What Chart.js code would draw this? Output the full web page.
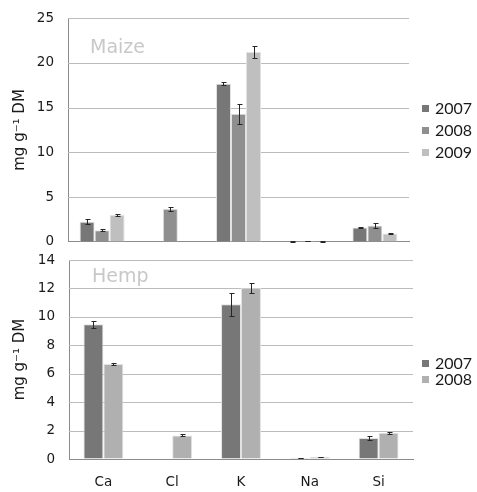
<!DOCTYPE html>
<html>
<head>
<meta charset="utf-8">
<script src="https://cdn.jsdelivr.net/npm/chart.js@4"></script>
<style>
  html, body { margin: 0; padding: 0; background: #fff; overflow: hidden; }
  #wrap { position: relative; width: 477px; height: 492px; }
  canvas { position: absolute; left: 0; }
  #c1 { top: 0; }
  #c2 { top: 250px; }
</style>
</head>
<body>
<div id="wrap">
  <canvas id="c1" width="477" height="250"></canvas>
  <canvas id="c2" width="477" height="242"></canvas>
</div>
<script>
// ---- Data ----
const categories = ['Ca', 'Cl', 'K', 'Na', 'Si'];
const yAxisTitle = 'mg g\u207B\u00B9 DM';

const maizeTitle = 'Maize';
const maizeYears = ['2007', '2008', '2009'];
const maize2007 = [2.25, null, 17.65, 0.05, 1.6];
const maize2008 = [1.3, 3.7, 14.3, 0.1, 1.82];
const maize2009 = [3.0, null, 21.2, 0.05, 0.93];
const maize2007Err = [0.3, null, 0.15, 0.02, 0.1];
const maize2008Err = [0.1, 0.25, 1.1, 0.03, 0.25];
const maize2009Err = [0.15, null, 0.65, 0.02, 0.04];
const maizeTicks = [0, 5, 10, 15, 20, 25];

const hempTitle = 'Hemp';
const hempYears = ['2007', '2008'];
const hemp2007 = [9.48, null, 10.88, 0.07, 1.47];
const hemp2008 = [6.69, 1.66, 12.05, 0.14, 1.85];
const hemp2007Err = [0.25, null, 0.8, 0.02, 0.15];
const hemp2008Err = [0.05, 0.07, 0.35, 0.03, 0.07];
const hempTicks = [0, 2, 4, 6, 8, 10, 12, 14];

// ---- Styles ----
const FONT = 'DejaVu Sans';
const C2007 = '#777777';
const C2008 = '#8f8f8f';
const C2009 = '#bfbfbf';
const C2008h = '#b0b0b0';
const GRID = '#bcbcbc';
const AXIS = '#8c8c8c';

// Gridlines drawn from the y scale's ticks (filled 1px rows)
const gridPlugin = {
  id: 'gridPlugin',
  beforeDatasetsDraw(chart) {
    const ctx = chart.ctx;
    const y = chart.scales.y;
    const a = chart.chartArea;
    ctx.save();
    ctx.fillStyle = GRID;
    for (let k = 0; k < y.ticks.length; k++) {
      const v = y.ticks[k].value;
      if (v <= y.min) continue;
      const py = Math.round(y.getPixelForValue(v));
      ctx.fillRect(Math.round(a.left), py, Math.round(a.right - a.left), 1);
    }
    ctx.restore();
  }
};

// Error bars plugin
const errorBars = {
  id: 'errorBars',
  afterDatasetsDraw(chart) {
    const ctx = chart.ctx;
    const y = chart.scales.y;
    ctx.save();
    ctx.strokeStyle = '#262626';
    ctx.lineWidth = 1;
    chart.data.datasets.forEach((ds, i) => {
      const meta = chart.getDatasetMeta(i);
      meta.data.forEach((bar, j) => {
        const v = ds.data[j], e = ds.errors ? ds.errors[j] : null;
        if (v == null || e == null) return;
        const x = Math.round(bar.x) + 0.5;
        const yt = Math.round(y.getPixelForValue(v + e)) + 0.5;
        const yb = Math.round(y.getPixelForValue(Math.max(0, v - e))) + 0.5;
        ctx.beginPath();
        ctx.moveTo(x, yt); ctx.lineTo(x, yb);
        ctx.moveTo(x - 2, yt); ctx.lineTo(x + 3, yt);
        ctx.moveTo(x - 2, yb); ctx.lineTo(x + 3, yb);
        ctx.stroke();
      });
    });
    ctx.restore();
  }
};

// Legend + panel title plugin
const decor = {
  id: 'decor',
  afterDraw(chart, args, opts) {
    const ctx = chart.ctx;
    ctx.save();
    ctx.font = '19px ' + FONT;
    ctx.fillStyle = '#c8c8c8';
    ctx.textBaseline = 'middle';
    ctx.textAlign = 'left';
    ctx.fillText(opts.title, opts.titleX, opts.titleY);
    ctx.font = '16px Lato';
    chart.data.datasets.forEach((ds, i) => {
      const cy = opts.legY + i * opts.legStep;
      ctx.fillStyle = ds.backgroundColor;
      ctx.fillRect(opts.legX, Math.round(cy - 3), 7, 7);
      ctx.fillStyle = '#1a1a1a';
      ctx.fillText(ds.label, opts.legX + 13, cy + 1);
    });
    ctx.restore();
  }
};

function makeChart(id, cfg) {
  const datasets = cfg.series.map((s) => ({
    label: s.label,
    data: s.data,
    errors: s.errors,
    backgroundColor: s.color,
    borderColor: '#e2e2e2',
    borderWidth: 1,
    categoryPercentage: cfg.catPct,
    barPercentage: 1.0
  }));
  return new Chart(document.getElementById(id), {
    type: 'bar',
    data: { labels: categories, datasets },
    plugins: [gridPlugin, errorBars, decor],
    options: {
      responsive: false,
      animation: false,
      devicePixelRatio: 1,
      layout: { padding: cfg.padding },
      plugins: {
        legend: { display: false },
        tooltip: { enabled: false },
        decor: cfg.decor
      },
      scales: {
        x: {
          grid: { display: false, drawTicks: false },
          border: { display: true, color: AXIS, width: 1 },
          ticks: {
            display: cfg.showX,
            padding: 15,
            color: '#1a1a1a',
            font: { family: FONT, size: 13.5 }
          },
          afterFit(s) { s.height = cfg.xHeight; }
        },
        y: {
          min: cfg.ticks[0],
          max: cfg.ticks[cfg.ticks.length - 1],
          grid: {
            display: true,
            drawOnChartArea: false,
            drawTicks: true,
            tickLength: 14,
            tickColor: 'rgba(0,0,0,0)'
          },
          border: { display: true, color: AXIS, width: 1 },
          ticks: {
            stepSize: cfg.ticks[1] - cfg.ticks[0],
            padding: 0,
            color: '#1a1a1a',
            font: { family: FONT, size: 13.5 }
          },
          title: {
            display: true,
            text: yAxisTitle,
            color: '#1a1a1a',
            font: { family: FONT, size: 15 },
            padding: { top: 11, bottom: 0 }
          },
          afterFit(s) { s.width = cfg.yWidth; }
        }
      }
    }
  });
}

makeChart('c1', {
  series: [
    { label: maizeYears[0], data: maize2007, errors: maize2007Err, color: C2007 },
    { label: maizeYears[1], data: maize2008, errors: maize2008Err, color: C2008 },
    { label: maizeYears[2], data: maize2009, errors: maize2009Err, color: C2009 }
  ],
  ticks: maizeTicks,
  catPct: 0.66,
  padding: { top: 18, right: 68, left: 0, bottom: 0 },
  yWidth: 68,
  xHeight: 8,
  showX: false,
  decor: { title: maizeTitle, titleX: 90, titleY: 48, legX: 422, legY: 108, legStep: 22 }
});

makeChart('c2', {
  series: [
    { label: hempYears[0], data: hemp2007, errors: hemp2007Err, color: C2007 },
    { label: hempYears[1], data: hemp2008, errors: hemp2008Err, color: C2008h }
  ],
  ticks: hempTicks,
  catPct: 0.58,
  padding: { top: 10, right: 64, left: 0, bottom: 0 },
  yWidth: 69,
  xHeight: 33,
  showX: true,
  decor: { title: hempTitle, titleX: 92, titleY: 27, legX: 422, legY: 113, legStep: 16 }
});
</script>
</body>
</html>
